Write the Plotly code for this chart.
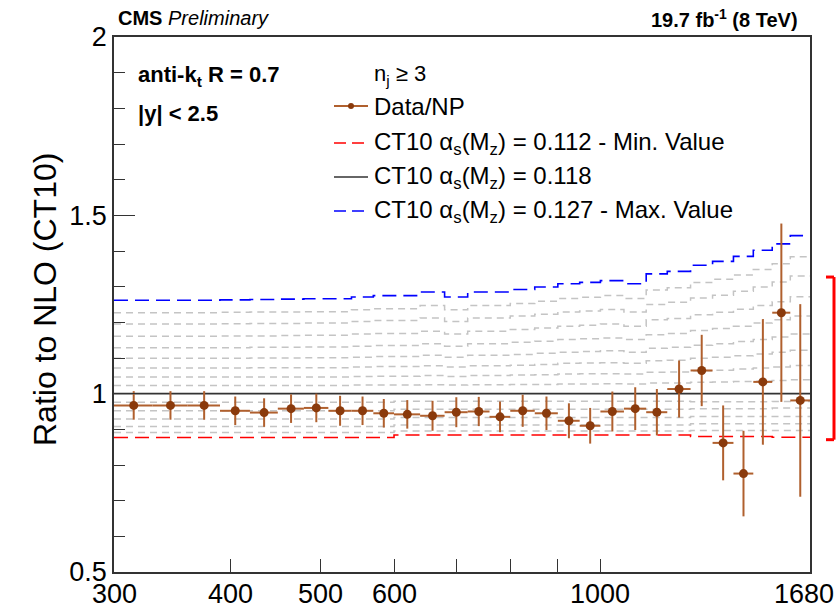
import math
import plotly.graph_objects as go

# Bin edges in the average dijet pT variable (GeV)
bin_edges = [300, 330, 360, 390, 420, 450, 480, 510, 540, 570, 600, 640, 680, 720,
             760, 800, 850, 900, 950, 1000, 1060, 1120, 1180, 1250, 1320, 1390,
             1460, 1530, 1600, 1680]

# Data / NP corrected, divided by NLO CT10 (alpha_s = 0.118)
data_ratio = [0.967, 0.967, 0.967, 0.952, 0.947, 0.958, 0.960, 0.952, 0.952, 0.945,
              0.942, 0.938, 0.948, 0.950, 0.935, 0.952, 0.945, 0.924, 0.910, 0.950,
              0.958, 0.948, 1.013, 1.065, 0.862, 0.776, 1.033, 1.227, 0.981]
data_err = [0.040, 0.040, 0.040, 0.040, 0.040, 0.040, 0.040, 0.042, 0.040, 0.040,
            0.040, 0.042, 0.042, 0.041, 0.043, 0.045, 0.047, 0.049, 0.050, 0.056,
            0.060, 0.065, 0.080, 0.100, 0.105, 0.120, 0.176, 0.250, 0.270]

# NLO CT10 predictions for different alpha_s(M_Z), relative to alpha_s = 0.118
nlo_0112 = [0.877, 0.877, 0.877, 0.877, 0.877, 0.877, 0.877, 0.877, 0.877, 0.877,
            0.884, 0.884, 0.884, 0.884, 0.884, 0.884, 0.884, 0.884, 0.884, 0.884,
            0.884, 0.884, 0.884, 0.880, 0.880, 0.880, 0.880, 0.878, 0.878]
nlo_0113 = [0.891, 0.891, 0.891, 0.891, 0.891, 0.891, 0.891, 0.891, 0.891, 0.891,
            0.895, 0.895, 0.895, 0.895, 0.895, 0.895, 0.895, 0.895, 0.895, 0.895,
            0.895, 0.895, 0.895, 0.897, 0.897, 0.897, 0.897, 0.897, 0.897]
nlo_0114 = [0.908, 0.908, 0.908, 0.908, 0.908, 0.908, 0.908, 0.908, 0.908, 0.908,
            0.912, 0.912, 0.912, 0.912, 0.912, 0.912, 0.912, 0.912, 0.912, 0.912,
            0.912, 0.912, 0.912, 0.916, 0.916, 0.916, 0.916, 0.916, 0.916]
nlo_0115 = [0.929, 0.929, 0.929, 0.929, 0.929, 0.929, 0.929, 0.929, 0.929, 0.929,
            0.933, 0.933, 0.933, 0.933, 0.933, 0.933, 0.933, 0.933, 0.933, 0.933,
            0.933, 0.933, 0.933, 0.936, 0.936, 0.936, 0.936, 0.936, 0.936]
nlo_0116 = [0.952, 0.952, 0.952, 0.952, 0.952, 0.952, 0.952, 0.952, 0.952, 0.952,
            0.956, 0.956, 0.956, 0.956, 0.956, 0.956, 0.956, 0.956, 0.956, 0.956,
            0.956, 0.956, 0.956, 0.958, 0.958, 0.958, 0.958, 0.960, 0.960]
nlo_0117 = [0.976, 0.976, 0.976, 0.976, 0.976, 0.976, 0.976, 0.976, 0.976, 0.976,
            0.979, 0.979, 0.979, 0.979, 0.979, 0.979, 0.979, 0.979, 0.979, 0.979,
            0.979, 0.979, 0.979, 0.977, 0.977, 0.977, 0.977, 0.978, 0.978]
nlo_0118 = [1.000] * 29
nlo_0119 = [1.023, 1.023, 1.023, 1.023, 1.023, 1.023, 1.023, 1.023, 1.024, 1.024,
            1.024, 1.025, 1.024, 1.025, 1.025, 1.026, 1.026, 1.027, 1.027, 1.028,
            1.027, 1.030, 1.030, 1.032, 1.033, 1.034, 1.035, 1.037, 1.039]
nlo_0120 = [1.047, 1.047, 1.047, 1.047, 1.047, 1.047, 1.047, 1.047, 1.048, 1.049,
            1.049, 1.051, 1.048, 1.051, 1.051, 1.052, 1.053, 1.055, 1.056, 1.056,
            1.055, 1.060, 1.061, 1.064, 1.066, 1.069, 1.072, 1.075, 1.079]
nlo_0121 = [1.072, 1.072, 1.072, 1.072, 1.073, 1.073, 1.073, 1.073, 1.075, 1.076,
            1.076, 1.078, 1.075, 1.078, 1.078, 1.080, 1.082, 1.085, 1.086, 1.087,
            1.085, 1.092, 1.094, 1.099, 1.102, 1.106, 1.111, 1.116, 1.122]
nlo_0122 = [1.099, 1.099, 1.099, 1.099, 1.100, 1.100, 1.101, 1.101, 1.102, 1.104,
            1.104, 1.108, 1.102, 1.108, 1.108, 1.110, 1.113, 1.116, 1.118, 1.120,
            1.116, 1.127, 1.130, 1.136, 1.140, 1.146, 1.152, 1.159, 1.167]
nlo_0123 = [1.129, 1.129, 1.129, 1.129, 1.130, 1.130, 1.131, 1.131, 1.133, 1.135,
            1.135, 1.140, 1.133, 1.140, 1.140, 1.144, 1.147, 1.152, 1.154, 1.156,
            1.152, 1.165, 1.169, 1.177, 1.183, 1.189, 1.198, 1.207, 1.218]
nlo_0124 = [1.161, 1.161, 1.161, 1.162, 1.162, 1.163, 1.164, 1.164, 1.167, 1.169,
            1.169, 1.175, 1.167, 1.175, 1.175, 1.180, 1.184, 1.189, 1.192, 1.195,
            1.189, 1.207, 1.211, 1.221, 1.228, 1.237, 1.247, 1.258, 1.272]
nlo_0125 = [1.195, 1.195, 1.195, 1.196, 1.197, 1.197, 1.198, 1.198, 1.202, 1.205,
            1.205, 1.212, 1.202, 1.212, 1.212, 1.218, 1.223, 1.229, 1.232, 1.236,
            1.229, 1.250, 1.256, 1.268, 1.276, 1.287, 1.299, 1.313, 1.330]
nlo_0126 = [1.227, 1.227, 1.227, 1.228, 1.229, 1.229, 1.230, 1.230, 1.235, 1.238,
            1.238, 1.247, 1.235, 1.247, 1.247, 1.253, 1.259, 1.267, 1.270, 1.275,
            1.267, 1.291, 1.297, 1.312, 1.321, 1.333, 1.348, 1.364, 1.384]
nlo_0127 = [1.262, 1.262, 1.262, 1.263, 1.264, 1.265, 1.266, 1.266, 1.271, 1.275,
            1.275, 1.285, 1.271, 1.285, 1.285, 1.292, 1.299, 1.308, 1.312, 1.317,
            1.308, 1.336, 1.343, 1.360, 1.371, 1.385, 1.402, 1.420, 1.443]

# Range marker drawn to the right of the frame
range_low, range_high = 0.871, 1.327

x_tick_vals = [300, 400, 500, 600, 700, 800, 900, 1000, 1680]
x_label_vals = [300, 400, 500, 600, 1000, 1680]

FONT = "Liberation Sans, Arial, Helvetica, sans-serif"
BROWN = "#8a3a0c"
BROWN_ERR = "#b0602e"

# frame geometry in pixels (figure is 838 x 612)
FL, FR, FT, FB = 114, 810, 37, 572


def px_x(px):
    return (px - FL) / (FR - FL)


def px_y(py):
    return (FB - py) / (FB - FT)


def step(values):
    return list(bin_edges), list(values) + [values[-1]]


fig = go.Figure()

gray_sets = [nlo_0113, nlo_0114, nlo_0115, nlo_0116, nlo_0117,
             nlo_0119, nlo_0120, nlo_0121, nlo_0122, nlo_0123,
             nlo_0124, nlo_0125, nlo_0126]
for vals in gray_sets:
    xs, ys = step(vals)
    fig.add_trace(go.Scatter(x=xs, y=ys, mode="lines", line_shape="hv",
                             line=dict(color="#c4c4c4", width=1.5, dash="7px,5px"),
                             hoverinfo="skip", showlegend=False))

for vals, col, dash in [(nlo_0112, "#ff0000", "14px,7px"),
                        (nlo_0127, "#0000ff", "14px,7px"),
                        (nlo_0118, "#333333", "solid")]:
    xs, ys = step(vals)
    fig.add_trace(go.Scatter(x=xs, y=ys, mode="lines", line_shape="hv",
                             line=dict(color=col, width=1.6, dash=dash),
                             hoverinfo="skip", showlegend=False))

centers = [(a + b) / 2 for a, b in zip(bin_edges[:-1], bin_edges[1:])]
fig.add_trace(go.Scatter(
    x=centers, y=data_ratio, mode="markers",
    marker=dict(color=BROWN, size=9),
    error_x=dict(type="data", symmetric=False,
                 array=[b - c for b, c in zip(bin_edges[1:], centers)],
                 arrayminus=[c - a for a, c in zip(bin_edges[:-1], centers)],
                 color=BROWN_ERR, thickness=2, width=0),
    error_y=dict(type="data", array=data_err, color=BROWN_ERR, thickness=2, width=0),
    showlegend=False))

annotations = [
    dict(x=px_x(116), y=px_y(18), xref="paper", yref="paper", xanchor="left", yanchor="middle",
         text="<b>CMS</b> <i>Preliminary</i>", showarrow=False,
         font=dict(family=FONT, size=20, color="black")),
    dict(x=px_x(800), y=px_y(18), xref="paper", yref="paper", xanchor="right", yanchor="middle",
         text="<b>19.7 fb<sup>-1</sup> (8 TeV)</b>", showarrow=False,
         font=dict(family=FONT, size=20, color="black")),
    dict(x=px_x(136), y=px_y(76), xref="paper", yref="paper", xanchor="left", yanchor="middle",
         text="<b>anti-k<sub>t</sub> R = 0.7</b>", showarrow=False,
         font=dict(family=FONT, size=22, color="black")),
    dict(x=px_x(136), y=px_y(113), xref="paper", yref="paper", xanchor="left", yanchor="middle",
         text="<b>|y| &lt; 2.5</b>", showarrow=False,
         font=dict(family=FONT, size=22, color="black")),
    dict(x=px_x(45), y=px_y(300), xref="paper", yref="paper", xanchor="center", yanchor="middle",
         text="Ratio to NLO (CT10)", textangle=-90, showarrow=False,
         font=dict(family=FONT, size=32, color="black")),
]

# x-axis labels; the last one is kept inside the page edge
for v in x_label_vals:
    last = v == x_label_vals[-1]
    annotations.append(dict(x=px_x(836) if last else math.log10(v), y=px_y(594),
                            xref="paper" if last else "x", yref="paper",
                            xanchor="right" if last else "center", yanchor="middle",
                            text=str(v), showarrow=False,
                            font=dict(family=FONT, size=27, color="black")))

legend_rows = [
    (75, "n<sub>j</sub> ≥ 3", None, 22),
    (106, "Data/NP", "data", 24),
    (143, "CT10 α<sub>s</sub>(M<sub>z</sub>) = 0.112 - Min. Value", ("#ff0000", "dash"), 24),
    (177, "CT10 α<sub>s</sub>(M<sub>z</sub>) = 0.118", ("#333333", "solid"), 24),
    (211, "CT10 α<sub>s</sub>(M<sub>z</sub>) = 0.127 - Max. Value", ("#0000ff", "dash"), 24),
]
shapes = []
for py, label, sym, fsize in legend_rows:
    annotations.append(dict(x=px_x(372), y=px_y(py), xref="paper", yref="paper",
                            xanchor="left", yanchor="middle", text=label, showarrow=False,
                            font=dict(family=FONT, size=fsize, color="black")))
    if sym is None:
        continue
    if sym == "data":
        shapes.append(dict(type="line", xref="paper", yref="paper",
                           x0=px_x(334), x1=px_x(368), y0=px_y(py), y1=px_y(py),
                           line=dict(color=BROWN_ERR, width=2)))
        shapes.append(dict(type="circle", xref="paper", yref="paper",
                           x0=px_x(348), x1=px_x(354), y0=px_y(py + 3), y1=px_y(py - 3),
                           fillcolor=BROWN, line=dict(color=BROWN, width=0)))
    else:
        col, dash = sym
        shapes.append(dict(type="line", xref="paper", yref="paper",
                           x0=px_x(334), x1=px_x(368), y0=px_y(py), y1=px_y(py),
                           line=dict(color=col, width=1.6,
                                     dash="12px,6px" if dash == "dash" else "solid")))

# bracket outside the frame
bx_in, bx_out = px_x(826), px_x(834)
for x0, x1, y0, y1 in [(bx_in, bx_out, range_high, range_high),
                       (bx_out, bx_out, range_low, range_high),
                       (bx_in, bx_out, range_low, range_low)]:
    shapes.append(dict(type="line", xref="paper", yref="y", x0=x0, x1=x1, y0=y0, y1=y1,
                       line=dict(color="#ff0000", width=3)))

fig.update_layout(
    width=838, height=612,
    margin=dict(l=FL, r=838 - FR, t=FT, b=612 - FB, autoexpand=False),
    paper_bgcolor="white", plot_bgcolor="white",
    font=dict(family=FONT, color="black"),
    annotations=annotations, shapes=shapes,
    xaxis=dict(type="log", range=[math.log10(300), math.log10(1680)], automargin=False,
               tickvals=x_tick_vals, showticklabels=False,
               ticks="inside", ticklen=13, tickwidth=1, tickcolor="#333333",
               showgrid=False, zeroline=False,
               showline=True, linecolor="#333333", linewidth=1.5, mirror=True),
    yaxis=dict(range=[0.5, 2.0], tickvals=[0.5, 1.0, 1.5, 2.0], automargin=False,
               ticktext=["0.5", "1", "1.5", "2"],
               ticks="inside", ticklen=21, tickwidth=1, tickcolor="#333333",
               minor=dict(tickvals=[0.6, 0.7, 0.8, 0.9, 1.1, 1.2, 1.3, 1.4,
                                    1.6, 1.7, 1.8, 1.9],
                          ticks="inside", ticklen=11, tickcolor="#333333", tickwidth=1),
               showgrid=False, zeroline=False,
               showline=True, linecolor="#333333", linewidth=1.5, mirror=True,
               tickfont=dict(family=FONT, size=27, color="black")),
)

fig.write_html("out.html")
